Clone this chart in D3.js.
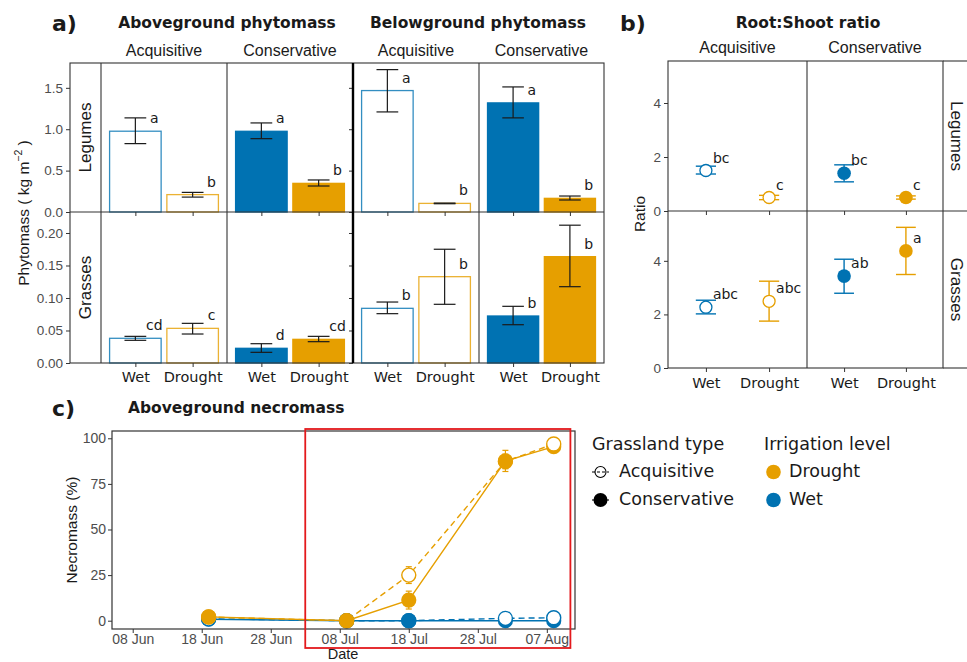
<!DOCTYPE html>
<html>
<head>
<meta charset="utf-8">
<script src="https://cdn.jsdelivr.net/npm/d3@7"></script>
<style>
  body { margin: 0; background: #fff; }
  svg { display: block; }
</style>
</head>
<body>
<svg width="967" height="662"></svg>
<script>
// ---- data ----
const groups = ['Legumes', 'Grasses'];
const types = ['Acquisitive', 'Conservative'];
const levels = ['Wet', 'Drought'];

// order inside each row: Acq-Wet, Acq-Drought, Cons-Wet, Cons-Drought
const aboveMean = [[0.976, 0.21, 0.975, 0.346], [0.038, 0.0533, 0.0226, 0.0364]];
const aboveLow = [[0.826, 0.18, 0.886, 0.314], [0.0349, 0.0446, 0.0164, 0.0328]];
const aboveHigh = [[1.137, 0.237, 1.076, 0.387], [0.041, 0.061, 0.0297, 0.041]];
const aboveLetters = [['a', 'b', 'a', 'b'], ['cd', 'c', 'd', 'cd']];

const belowMean = [[1.467, 0.104, 1.318, 0.165], [0.0841, 0.1328, 0.0723, 0.1636]];
const belowLow = [[1.209, 0.1, 1.137, 0.145], [0.0759, 0.0903, 0.0589, 0.1174]];
const belowHigh = [[1.72, 0.108, 1.511, 0.193], [0.0938, 0.175, 0.0872, 0.212]];
const belowLetters = [['a', 'b', 'a', 'b'], ['b', 'b', 'b', 'b']];

const ratioMean = [[1.5, 0.5, 1.4, 0.5], [2.27, 2.49, 3.43, 4.37]];
const ratioLow = [[1.37, 0.42, 1.08, 0.44], [2.02, 1.75, 2.79, 3.49]];
const ratioHigh = [[1.66, 0.58, 1.71, 0.56], [2.53, 3.24, 4.06, 5.25]];
const ratioLetters = [['bc', 'c', 'bc', 'c'], ['abc', 'abc', 'ab', 'a']];

const phytoTicks = [[0, 0.5, 1, 1.5], [0, 0.05, 0.1, 0.15, 0.2]];
const ratioTicks = [0, 2, 4];

const necroDates = ['2021-06-19', '2021-07-09', '2021-07-18', '2021-08-01', '2021-08-08'];
const necroAcqDrought = [2.0, 0.0, 25.0, 87.3, 96.9];
const necroConsDrought = [2.1, 0.0, 11.3, 87.6, 95.4];
const necroAcqWet = [1.0, 0.0, 0.0, 1.3, 1.6];
const necroConsWet = [0.8, 0.0, 0.0, 0.0, 0.0];
const necroAcqDroughtSe = [0.5, 0.2, 4.6, 4.0, 1.2];
const necroConsDroughtSe = [0.6, 0.1, 4.9, 5.8, 1.5];
const necroAcqWetSe = [0.3, 0.1, 0.2, 0.6, 0.8];
const necroConsWetSe = [0.3, 0.0, 0.0, 0.0, 0.0];
const necroTicks = [0, 25, 50, 75, 100];
const dateTicks = ['2021-06-08', '2021-06-18', '2021-06-28', '2021-07-08', '2021-07-18', '2021-07-28', '2021-08-07'];
const highlightRange = ['2021-07-03T00:00', '2021-08-10T10:00'];

// ---- setup ----
const svg = d3.select('svg');
const blue = '#0072B2', orange = '#E69F00';
const levelColor = d3.scaleOrdinal().domain(levels).range([blue, orange]);
const sans = 'Liberation Sans, Arial, sans-serif';
const verd = 'DejaVu Sans, Verdana, sans-serif';
const ink = '#1a1a1a';

function styleAxis(g, size) {
  g.attr('font-family', sans);
  g.select('.domain').remove();
  g.selectAll('line').attr('stroke', '#333');
  g.selectAll('text').attr('fill', '#4d4d4d').attr('font-size', size);
}

function label(x, y, txt, opts) {
  const t = svg.append('text').attr('x', x).attr('y', y).text(txt)
    .attr('font-family', opts.font || sans)
    .attr('font-size', opts.size || 14)
    .attr('font-weight', opts.weight || 'normal')
    .attr('fill', opts.fill || ink)
    .attr('text-anchor', opts.anchor || 'middle');
  if (opts.rotate) t.attr('transform', `rotate(${opts.rotate},${x},${y})`);
  if (opts.baseline) t.attr('dominant-baseline', opts.baseline);
  return t;
}

// ================= panel a =================
const aRows = [[63, 212], [212, 363]];
const aYMax = [1.8, 0.2323];
const aY = aRows.map((r, i) => d3.scaleLinear().domain([0, aYMax[i]]).range([r[1], r[0]]));
const aboveCols = [101, 227, 353];
const belowCols = [353, 479, 604];

function barPanels(cols, means, lows, highs, letters) {
  groups.forEach((g, gi) => {
    const y = aY[gi];
    types.forEach((t, ti) => {
      const x = d3.scaleLinear().domain([0.4, 2.6]).range([cols[ti], cols[ti + 1]]);
      const cells = levels.map((lv, li) => ({ lv: lv, pos: li + 1, k: ti * 2 + li }));
      const grp = svg.append('g');

      grp.selectAll('rect').data(cells).join('rect')
        .attr('x', d => x(d.pos - 0.45))
        .attr('width', d => x(d.pos + 0.45) - x(d.pos - 0.45))
        .attr('y', d => y(means[gi][d.k]))
        .attr('height', d => y(0) - y(means[gi][d.k]))
        .attr('fill', d => ti === 0 ? '#fff' : levelColor(d.lv))
        .attr('stroke', d => levelColor(d.lv))
        .attr('stroke-opacity', ti === 0 ? 0.8 : 1)
        .attr('stroke-width', 1.3);

      // error bars
      const eb = grp.selectAll('g.eb').data(cells).join('g').attr('stroke', ink).attr('stroke-width', 1.2);
      eb.append('line')
        .attr('x1', d => x(d.pos)).attr('x2', d => x(d.pos))
        .attr('y1', d => y(lows[gi][d.k])).attr('y2', d => y(highs[gi][d.k]));
      eb.append('line')
        .attr('x1', d => x(d.pos - 0.19)).attr('x2', d => x(d.pos + 0.19))
        .attr('y1', d => y(lows[gi][d.k])).attr('y2', d => y(lows[gi][d.k]));
      eb.append('line')
        .attr('x1', d => x(d.pos - 0.19)).attr('x2', d => x(d.pos + 0.19))
        .attr('y1', d => y(highs[gi][d.k])).attr('y2', d => y(highs[gi][d.k]));

      // significance letters
      grp.selectAll('text').data(cells).join('text')
        .attr('x', d => x(d.pos + 0.33))
        .attr('y', d => y(means[gi][d.k]) - 13)
        .attr('dominant-baseline', 'central')
        .attr('text-anchor', 'middle')
        .attr('font-family', verd).attr('font-size', 14).attr('fill', ink)
        .text(d => letters[gi][d.k]);

      // x axis ticks at the bottom of every row
      const xa = svg.append('g').attr('transform', `translate(0,${aRows[gi][1]})`)
        .call(d3.axisBottom(x).tickValues([1, 2]).tickSize(4).tickPadding(5)
          .tickFormat(d => gi === 1 ? levels[d - 1] : ''));
      styleAxis(xa, 14.5);
      xa.attr('font-family', verd);
      xa.selectAll('text').attr('fill', ink);
    });
  });
}

barPanels(aboveCols, aboveMean, aboveLow, aboveHigh, aboveLetters);
barPanels(belowCols, belowMean, belowLow, belowHigh, belowLetters);

groups.forEach((g, gi) => {
  const ya = svg.append('g').attr('transform', 'translate(70,0)')
    .call(d3.axisLeft(aY[gi]).tickValues(phytoTicks[gi]).tickSize(4).tickPadding(3)
      .tickFormat(d3.format(gi ? '.2f' : '.1f')));
  styleAxis(ya, 13.5);
  const yb = svg.append('g').attr('transform', 'translate(353,0)')
    .call(d3.axisLeft(aY[gi]).tickValues(phytoTicks[gi]).tickSize(4).tickFormat(''));
  styleAxis(yb, 13.5);
  // row strip on the left
  label(85, (aRows[gi][0] + aRows[gi][1]) / 2, g, { size: 17, rotate: -90, baseline: 'central' });
});

// frames panel a
const fa = svg.append('g').attr('fill', 'none').attr('stroke', '#333').attr('stroke-width', 1.1);
fa.append('rect').attr('x', 70).attr('y', 63).attr('width', 604 - 70).attr('height', 363 - 63);
[101, 227, 479].forEach(v => fa.append('line').attr('x1', v).attr('x2', v).attr('y1', 63).attr('y2', 363));
fa.append('line').attr('x1', 70).attr('x2', 604).attr('y1', 212).attr('y2', 212);
fa.append('line').attr('x1', 353).attr('x2', 353).attr('y1', 63).attr('y2', 363).attr('stroke', '#000').attr('stroke-width', 2.4);

// strip labels / titles panel a
types.forEach((t, ti) => {
  label((aboveCols[ti] + aboveCols[ti + 1]) / 2, 56, t, { size: 16 });
  label((belowCols[ti] + belowCols[ti + 1]) / 2, 56, t, { size: 16 });
});
label(227, 28, 'Aboveground phytomass', { font: verd, weight: 'bold', size: 15.5 });
label(478, 28, 'Belowground phytomass', { font: verd, weight: 'bold', size: 15.5 });
label(52, 31, 'a)', { font: verd, weight: 'bold', size: 22, anchor: 'start' });

const yt = label(29, 213, 'Phytomass ( kg m', { size: 15.5, rotate: -90 });
yt.append('tspan').attr('font-size', 10.5).attr('dy', -7).text('\u22122');
yt.append('tspan').attr('dy', 7).text(' )');

// ================= panel b =================
const bRows = [[61, 211], [211, 368]];
const bYMax = [5.556, 5.86];
const bY = bRows.map((r, i) => d3.scaleLinear().domain([0, bYMax[i]]).range([r[1], r[0]]));
const bCols = [668, 807, 943];

groups.forEach((g, gi) => {
  const y = bY[gi];
  types.forEach((t, ti) => {
    const x = d3.scaleLinear().domain([0.4, 2.6]).range([bCols[ti], bCols[ti + 1]]);
    const cells = levels.map((lv, li) => ({ lv: lv, pos: li + 1, k: ti * 2 + li }));
    const grp = svg.append('g');

    const eb = grp.selectAll('g.eb').data(cells).join('g')
      .attr('stroke', d => levelColor(d.lv)).attr('stroke-width', 1.4);
    eb.append('line')
      .attr('x1', d => x(d.pos)).attr('x2', d => x(d.pos))
      .attr('y1', d => y(ratioLow[gi][d.k])).attr('y2', d => y(ratioHigh[gi][d.k]));
    [ratioLow, ratioHigh].forEach(arr => {
      eb.append('line')
        .attr('x1', d => x(d.pos - 0.16)).attr('x2', d => x(d.pos + 0.16))
        .attr('y1', d => y(arr[gi][d.k])).attr('y2', d => y(arr[gi][d.k]));
    });

    grp.selectAll('circle').data(cells).join('circle')
      .attr('cx', d => x(d.pos))
      .attr('cy', d => y(ratioMean[gi][d.k]))
      .attr('r', ti === 0 ? 6 : 6.8)
      .attr('fill', d => ti === 0 ? '#fff' : levelColor(d.lv))
      .attr('stroke', d => levelColor(d.lv))
      .attr('stroke-width', ti === 0 ? 1.3 : 0);

    grp.selectAll('text').data(cells).join('text')
      .attr('x', d => x(d.pos) + 7)
      .attr('y', d => y(ratioMean[gi][d.k]) - 13)
      .attr('dominant-baseline', 'central')
      .attr('font-family', verd).attr('font-size', 14).attr('fill', ink)
      .text(d => ratioLetters[gi][d.k]);

    const xa = svg.append('g').attr('transform', `translate(0,${bRows[gi][1]})`)
      .call(d3.axisBottom(x).tickValues([1, 2]).tickSize(4).tickPadding(6)
        .tickFormat(d => gi === 1 ? levels[d - 1] : ''));
    styleAxis(xa, 14.5);
    xa.attr('font-family', verd);
    xa.selectAll('text').attr('fill', ink);
  });

  const ya = svg.append('g').attr('transform', `translate(${bCols[0]},0)`)
    .call(d3.axisLeft(y).tickValues(ratioTicks).tickSize(4).tickPadding(3).tickFormat(d3.format('d')));
  styleAxis(ya, 13.5);
  label(956, (bRows[gi][0] + bRows[gi][1]) / 2, g, { size: 17, rotate: 90, baseline: 'central' });
});

const fb = svg.append('g').attr('fill', 'none').attr('stroke', '#333').attr('stroke-width', 1.1);
fb.append('rect').attr('x', 668).attr('y', 61).attr('width', 943 - 668).attr('height', 368 - 61);
fb.append('line').attr('x1', 807).attr('x2', 807).attr('y1', 61).attr('y2', 368);
[61, 211, 368].forEach(v => fb.append('line').attr('x1', v === 211 ? 668 : 943).attr('x2', 975).attr('y1', v).attr('y2', v));

types.forEach((t, ti) => label((bCols[ti] + bCols[ti + 1]) / 2, 53, t, { size: 16 }));
label(808, 28, 'Root:Shoot ratio', { font: verd, weight: 'bold', size: 15.5 });
label(620, 31, 'b)', { font: verd, weight: 'bold', size: 22, anchor: 'start' });
label(645, 214, 'Ratio', { size: 15.5, rotate: -90 });

// ================= panel c =================
const parseDay = d3.timeParse('%Y-%m-%d');
const cx = d3.scaleTime()
  .domain([new Date(2021, 5, 5), new Date(2021, 7, 11, 2)])
  .range([112, 575]);
const cy = d3.scaleLinear().domain([-4.55, 104]).range([629, 431]);

const series = [
  { type: 'Acquisitive', level: 'Wet', vals: necroAcqWet, se: necroAcqWetSe },
  { type: 'Conservative', level: 'Wet', vals: necroConsWet, se: necroConsWetSe },
  { type: 'Acquisitive', level: 'Drought', vals: necroAcqDrought, se: necroAcqDroughtSe },
  { type: 'Conservative', level: 'Drought', vals: necroConsDrought, se: necroConsDroughtSe }
];
const days = necroDates.map(parseDay);

const line = d3.line().x(d => cx(d.date)).y(d => cy(d.v));
const pts = [];
series.forEach(s => {
  const rows = days.map((dt, i) => ({ date: dt, v: s.vals[i], se: s.se[i], type: s.type, level: s.level }));
  svg.append('path').datum(rows)
    .attr('d', line)
    .attr('fill', 'none')
    .attr('stroke', levelColor(s.level))
    .attr('stroke-width', 1.4)
    .attr('stroke-dasharray', s.type === 'Acquisitive' ? '6,4' : null);
  rows.forEach(r => pts.push(r));
});

// error bars
const ceb = svg.append('g').selectAll('g').data(pts).join('g')
  .attr('stroke', d => levelColor(d.level)).attr('stroke-width', 1.2);
ceb.append('line')
  .attr('x1', d => cx(d.date)).attr('x2', d => cx(d.date))
  .attr('y1', d => cy(d.v - d.se)).attr('y2', d => cy(d.v + d.se));
ceb.append('line')
  .attr('x1', d => cx(d.date) - 3).attr('x2', d => cx(d.date) + 3)
  .attr('y1', d => cy(d.v - d.se)).attr('y2', d => cy(d.v - d.se));
ceb.append('line')
  .attr('x1', d => cx(d.date) - 3).attr('x2', d => cx(d.date) + 3)
  .attr('y1', d => cy(d.v + d.se)).attr('y2', d => cy(d.v + d.se));

// points: wet under drought, higher values on top (ties: conservative on top)
const ordered = d3.sort(pts, (a, b) => d3.descending(a.level, b.level) || d3.ascending(a.v, b.v));
svg.append('g').selectAll('circle').data(ordered).join('circle')
  .attr('cx', d => cx(d.date))
  .attr('cy', d => cy(d.v))
  .attr('r', d => d.type === 'Acquisitive' ? 7 : 7.6)
  .attr('fill', d => d.type === 'Acquisitive' ? '#fff' : levelColor(d.level))
  .attr('stroke', d => levelColor(d.level))
  .attr('stroke-width', d => d.type === 'Acquisitive' ? 1.4 : 0);

const cya = svg.append('g').attr('transform', 'translate(112,0)')
  .call(d3.axisLeft(cy).tickValues(necroTicks).tickSize(4).tickPadding(2));
styleAxis(cya, 14);
const cxa = svg.append('g').attr('transform', 'translate(0,629)')
  .call(d3.axisBottom(cx).tickValues(dateTicks.map(parseDay)).tickSize(4).tickPadding(1)
    .tickFormat(d3.timeFormat('%d %b')));
styleAxis(cxa, 14);

svg.append('rect').attr('x', 112).attr('y', 431).attr('width', 575 - 112).attr('height', 629 - 431)
  .attr('fill', 'none').attr('stroke', '#333').attr('stroke-width', 1.2);

// highlighted window
const hl = highlightRange.map(s => new Date(s));
svg.append('rect')
  .attr('x', cx(hl[0])).attr('width', cx(hl[1]) - cx(hl[0]))
  .attr('y', 429).attr('height', 648 - 429)
  .attr('fill', 'none').attr('stroke', '#e3191c').attr('stroke-width', 1.8);

label(52, 416, 'c)', { font: verd, weight: 'bold', size: 22, anchor: 'start' });
label(128, 413, 'Aboveground necromass', { font: verd, weight: 'bold', size: 15.5, anchor: 'start' });
label(77, 530, 'Necromass (%)', { size: 15.5, rotate: -90 });
label(343, 659, 'Date', { size: 14.5 });

// legend
const lg = svg.append('g');
label(592, 450, 'Grassland type', { font: verd, size: 17.5, anchor: 'start' });
label(764, 450, 'Irrigation level', { font: verd, size: 17.5, anchor: 'start' });

const keyRows = [472, 500];
types.forEach((name, i) => {
  const yy = keyRows[i];
  lg.append('line').attr('x1', 592).attr('x2', 609).attr('y1', yy).attr('y2', yy)
    .attr('stroke', '#000').attr('stroke-width', 1.1).attr('stroke-dasharray', i === 0 ? '3,2' : null);
  lg.append('circle').attr('cx', 600.5).attr('cy', yy).attr('r', i === 0 ? 5.5 : 7)
    .attr('fill', i === 0 ? 'none' : '#000').attr('stroke', '#000').attr('stroke-width', i === 0 ? 1.1 : 0);
  label(619, yy + 5, name, { font: verd, size: 17.5, anchor: 'start' });
});
['Drought', 'Wet'].forEach((lv, i) => {
  const yy = keyRows[i];
  lg.append('circle').attr('cx', 773.5).attr('cy', yy).attr('r', 7.3).attr('fill', levelColor(lv));
  label(789, yy + 5, lv, { font: verd, size: 17.5, anchor: 'start' });
});
</script>
</body>
</html>
